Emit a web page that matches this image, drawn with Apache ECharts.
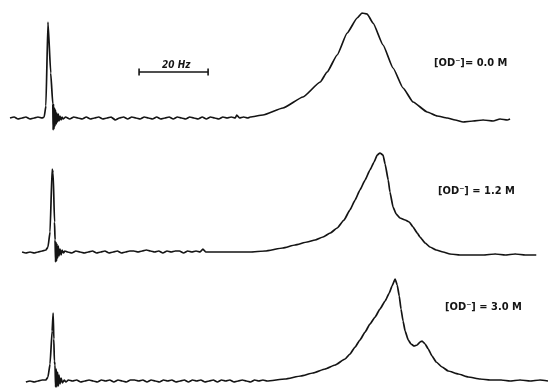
<!DOCTYPE html>
<html>
<head>
<meta charset="utf-8">
<script src="https://cdn.jsdelivr.net/npm/echarts@6/dist/echarts.min.js"></script>
<style>html,body{margin:0;padding:0;background:#fff}#c{width:548px;height:389px}</style>
</head>
<body>
<div id="c"></div>
<script>
// Frequency (Hz, relative) and signal height (arbitrary units)
const labels = ['[OD\u207B]= 0.0 M', '[OD\u207B] = 1.2 M', '[OD\u207B] = 3.0 M'];
const offsets = [271, 137, 8]; // vertical stacking offset of each trace
const scaleBarHz = [40.3, 60.3];
const scaleBarLabel = '20 Hz';

// ---- trace 0: [OD-] = 0.0 M ----
const t0Head = [[2.9,0],[4.1,1],[5.2,-1],[6.4,0],[7.5,1],[8.7,-1],[9.9,0],[11.0,1],[12.2,0],[12.8,1],[13.3,12],[13.9,96],[14.7,45],[15.3,14],[15.4,-12],[15.5,14],[15.65,-11],[15.8,10],[15.95,-8],[16.1,8],[16.3,-6],[16.45,5],[16.65,-4],[16.9,4],[17.1,-3],[17.4,2],[17.7,-2],[18.0,1],[18.3,-1]];
const t0BaseHz = [19.0,20.2,21.4,22.6,23.8,25.0,26.2,27.4,28.6,29.8,31.0,32.2,33.4,34.6,35.8,37.0,38.2,39.4,40.6,41.8,43.0,44.2,45.4,46.6,47.8,49.0,50.2,51.4,52.6,53.8,55.0,56.2,57.4,58.6,59.8,61.0,62.2,63.4,64.6,65.8,67.0,68.2,68.6,69.4,70.6,71.8];
const t0BaseVal = [1,-1,1,0,-1,1,-1,0,1,-1,0,1,-2,0,1,-1,1,0,-1,1,0,-1,1,-1,0,1,-1,1,0,-1,1,0,-1,1,-1,1,0,-1,1,0,1,0,3,0,1,0];
const t0Peak = [[72.5,1],[76.2,3],[82.0,10],[87.8,21],[92.8,36],[94.8,46],[97.7,63],[100.6,85],[103.5,100],[104.9,105],[106.4,104],[108.1,95],[111.0,73],[113.9,50],[116.8,30],[119.7,16],[123.8,6],[126.7,2],[129.6,0],[131.9,-2],[134.2,-4],[137.1,-3],[140.0,-2],[142.9,-3],[144.9,-1],[147.0,-2],[147.8,-1]];

// ---- trace 1: [OD-] = 1.2 M ----
const t1Head = [[6.4,0],[7.5,-1],[8.7,0],[9.9,-1],[11.0,0],[12.2,1],[13.3,2],[13.9,5],[14.5,20],[15.1,83],[15.4,79],[15.8,30],[15.95,12],[16.1,-10],[16.2,10],[16.4,-9],[16.5,8],[16.7,-6],[16.9,6],[17.1,-4],[17.4,3],[17.7,-3],[18.0,2],[18.4,-1],[18.8,1]];
const t1BaseHz = [19.6,20.8,22.0,23.2,24.4,25.6,26.8,28.0,29.2,30.4,31.6,32.8,34.0,35.2,36.4,37.6,38.8,40.0,41.2,42.4,43.6,44.8,46.0,47.2,48.4,49.6,50.8,52.0,53.2,54.4,55.6,56.8,58.0,58.8,59.6,60.8,62.0,63.2,64.4,65.6,66.8,68.0,69.2,70.4,71.6];
const t1BaseVal = [0,-1,1,0,-1,0,1,-1,0,1,-1,0,1,-1,0,1,1,0,1,2,1,0,1,-1,1,0,1,1,-1,1,0,1,0,3,0,0,0,0,0,0,0,0,0,0,0];
const t1Peak = [[72.5,0],[76.8,1],[82.0,4],[85.5,7],[89.0,10],[91.3,12],[93.6,15],[95.7,19],[97.7,24],[99.7,32],[101.4,42],[102.9,52],[104.3,62],[105.8,72],[107.2,82],[108.4,90],[109.3,97],[110.1,99],[111.0,97],[111.6,88],[112.5,72],[113.0,60],[113.9,45],[114.8,38],[115.9,34],[117.4,32],[118.6,30],[119.7,25],[120.9,19],[121.7,15],[123.2,9],[124.6,5],[126.4,2],[128.4,0],[130.4,-2],[133.3,-3],[136.2,-3],[140.0,-3],[143.5,-2],[146.4,-3],[149.3,-2],[152.2,-3],[155.4,-3]];

// ---- trace 2: [OD-] = 3.0 M ----
const t2Head = [[7.5,-1],[8.7,0],[9.9,-1],[11.0,0],[12.2,1],[13.3,1],[13.9,4],[14.5,17],[15.1,50],[15.4,68],[15.6,42],[15.75,20],[15.95,16],[16.1,-6],[16.3,12],[16.45,-6],[16.7,9],[16.9,-5],[17.1,6],[17.4,-3],[17.7,3],[18.1,-2],[18.6,1],[19.1,-1]];
const t2BaseHz = [19.8,21.0,22.2,23.4,24.6,25.8,27.0,28.2,29.4,30.6,31.8,33.0,34.2,35.4,36.6,37.8,39.0,40.2,41.4,42.6,43.8,45.0,46.2,47.4,48.6,49.8,51.0,52.2,53.4,54.6,55.8,57.0,58.2,59.4,60.6,61.8,63.0,64.2,65.4,66.6,67.8,69.0,70.2,71.4,72.6,73.8,75.0,76.2,77.4];
const t2BaseVal = [1,0,1,-1,0,1,0,-1,1,0,1,-1,1,0,-1,1,1,0,1,-1,1,0,-1,1,0,1,-1,0,1,-1,1,0,1,-1,0,1,-1,1,0,1,-1,0,1,0,-1,1,0,1,0];
const t2Peak = [[82.6,2],[87.2,5],[90.7,8],[94.2,12],[97.1,16],[100.0,22],[101.4,27],[102.9,34],[104.3,41],[105.8,49],[107.2,57],[108.7,64],[110.1,72],[111.6,80],[112.8,88],[113.6,95],[114.5,102],[115.1,96],[115.7,85],[116.2,72],[116.8,60],[117.4,50],[118.3,41],[119.1,37],[120.0,35],[120.9,36],[121.7,39],[122.3,40],[123.2,37],[124.1,32],[125.2,25],[126.4,19],[128.1,14],[129.9,10],[132.8,7],[135.7,4],[139.1,2],[142.0,1],[145.2,1],[147.8,0],[150.7,1],[153.6,0],[156.5,1],[158.8,0]];

function zip(xs, ys) { return xs.map((x, i) => [x, ys[i]]); }
const traces = [
  t0Head.concat(zip(t0BaseHz, t0BaseVal), t0Peak),
  t1Head.concat(zip(t1BaseHz, t1BaseVal), t1Peak),
  t2Head.concat(zip(t2BaseHz, t2BaseVal), t2Peak)
];

const chart = echarts.init(document.getElementById('c'), null, {renderer: 'canvas'});
const series = traces.map((t, i) => ({
  type: 'line',
  data: t.map(p => [p[0], p[1] + offsets[i]]),
  showSymbol: false,
  smooth: 0.15,
  smoothMonotone: 'x',
  animation: false,
  lineStyle: {color: '#141414', width: 1.7, join: 'round'}
}));
series.push({
  type: 'line',
  data: scaleBarHz.map(x => [x, 317]),
  symbol: 'rect',
  symbolSize: [1.6, 7],
  showSymbol: true,
  itemStyle: {color: '#141414'},
  lineStyle: {color: '#141414', width: 1.6},
  animation: false
});
const labelPos = [[434, 58], [438, 186], [445, 302]];
chart.setOption({
  animation: false,
  backgroundColor: '#fff',
  grid: {left: 0, right: 0, top: 0, bottom: 0},
  xAxis: {type: 'value', min: 0, max: 158.8, show: false},
  yAxis: {type: 'value', min: 0, max: 389, show: false},
  series: series,
  graphic: labels.map((s, i) => ({
    type: 'text', left: labelPos[i][0], top: labelPos[i][1],
    style: {text: s, fill: '#141414', font: 'bold 11px "DejaVu Sans Condensed", "DejaVu Sans"'}
  })).concat([{
    type: 'text', left: 162, top: 60,
    style: {text: scaleBarLabel, fill: '#141414', font: 'bold italic 10px "DejaVu Sans Condensed", "DejaVu Sans"'}
  }])
});
</script>
</body>
</html>
